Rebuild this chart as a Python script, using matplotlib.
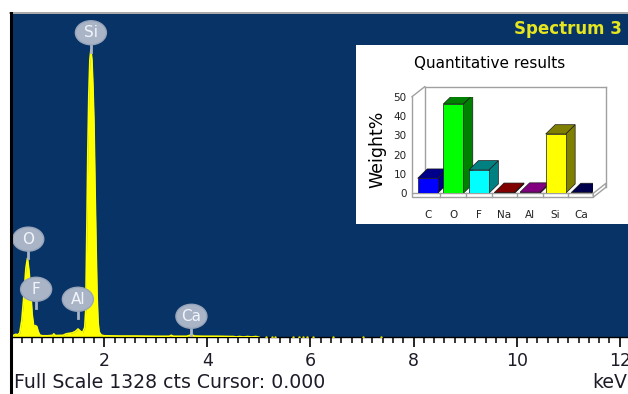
import matplotlib
matplotlib.use("Agg")
import matplotlib.pyplot as plt
from matplotlib.patches import Polygon, Ellipse, Rectangle
from matplotlib.lines import Line2D
from matplotlib.transforms import IdentityTransform

# ---------------- spectrum data (keV, counts) ----------------
energy = [0.19, 0.24, 0.28, 0.32, 0.36, 0.40, 0.44, 0.48, 0.51, 0.54, 0.57,
          0.60, 0.63, 0.66, 0.69, 0.72, 0.75, 0.80, 0.90, 1.00, 1.02, 1.05,
          1.20, 1.26, 1.32, 1.38, 1.44, 1.49, 1.54, 1.58, 1.62, 1.64, 1.66,
          1.68, 1.70, 1.72, 1.74, 1.76, 1.78, 1.80, 1.82, 1.84, 1.86, 1.88,
          1.90, 1.94, 2.00, 2.30, 2.60, 3.00, 3.26, 3.30, 3.34, 3.60, 3.66,
          3.70, 3.74, 3.90, 4.20, 4.44, 4.50, 4.56, 4.62, 4.70, 4.78, 4.86,
          4.94, 5.00]
counts = [6, 8, 12, 10, 18, 70, 170, 285, 325, 270, 195,
          95, 45, 48, 44, 22, 9, 6, 6, 8, 14, 7,
          8, 14, 16, 18, 24, 34, 24, 20, 40, 110, 420,
          760, 1000, 1140, 1180, 1140, 1030, 880, 620, 380, 170, 60,
          22, 9, 6, 5, 5, 4, 4, 8, 4, 4, 8,
          11, 5, 4, 4, 3, 3, 1, 3, 1, 3, 1,
          3, 0]
# isolated low-count channels beyond 5 keV
noise_energy = [5.13, 5.26, 5.32, 5.67, 5.77, 5.86, 5.94, 6.04, 6.43, 7.01, 7.36]
noise_counts = [3, 3, 3, 3, 3, 3, 3, 3, 3, 3, 3]

full_scale = 1328
x_range = (0.19, 12.16)
major_ticks = [2, 4, 6, 8, 10, 12]

# element markers: line energy and count level where the marker stem ends
peak_names = ["O", "F", "Al", "Si", "Ca"]
peak_energy = [0.525, 0.677, 1.487, 1.740, 3.690]
peak_marker_counts = [325, 119, 78, 1173, 8]

# ---------------- quantitative results ----------------
elements = ["C", "O", "F", "Na", "Al", "Si", "Ca"]
weight_pct = [7.8, 46.2, 12.1, 0.5, 0.6, 30.7, 0.4]
front_colors = ["#0000FF", "#00FF00", "#00FFFF", "#C00000", "#E000E0", "#FFFF00", "#000080"]
shade_colors = ["#00008B", "#008000", "#008080", "#800000", "#800080", "#808000", "#00004D"]

W, H = 628, 394
def fx(px):
    return px / W
def fy(py):
    return 1 - py / H

fig = plt.figure(figsize=(W / 100, H / 100), dpi=100)
fig.patch.set_facecolor("white")

# ---------------- main spectrum axes ----------------
ax = fig.add_axes([fx(11), fy(337), 1 - fx(11), (337 - 14) / H])
ax.set_facecolor("#083366")
ax.set_xlim(*x_range)
ax.set_ylim(1, full_scale)
for side in ("top", "right", "left"):
    ax.spines[side].set_visible(False)
ax.spines["bottom"].set_color("black")
ax.spines["bottom"].set_linewidth(1.0)
ax.set_yticks([])
ax.set_xticks(major_ticks)
ax.set_xticklabels([str(t) for t in major_ticks])
ax.set_xticks([round(0.2 * k, 1) for k in range(1, 61)], minor=True)
ax.tick_params(axis="x", which="major", direction="out", length=7, width=1.2,
               color="black", labelsize=12.5, labelcolor="#1c1c28", pad=4)
ax.tick_params(axis="x", which="minor", direction="out", length=4, width=1.1,
               color="black")
for lab in ax.get_xticklabels():
    lab.set_family("DejaVu Sans")

ax.fill_between(energy, counts, 0, color="#FFFF00", lw=0, zorder=2)
ax.plot(energy, counts, color="#FFFF00", lw=1.2, zorder=3)
ax.scatter(noise_energy, noise_counts, s=3, color="#E0E000", lw=0, zorder=3)

# element markers
BADGE = "#A9B4C7"
STEM, BW, BH = 7, 31, 24
for name, e, c in zip(peak_names, peak_energy, peak_marker_counts):
    bx, by = ax.transData.transform((e, c))
    stem = Line2D([bx, bx], [by, by + STEM + 2], transform=IdentityTransform(),
                  color=BADGE, lw=2, zorder=5)
    stem.set_clip_on(False)
    ax.add_artist(stem)
    ell = Ellipse((bx, by + STEM + BH / 2), BW, BH, transform=IdentityTransform(),
                  fc=BADGE, ec="#97A4BA", lw=1, zorder=6)
    ell.set_clip_on(False)
    ax.add_patch(ell)
    ax.text(bx, by + STEM + BH / 2, name, transform=IdentityTransform(),
            ha="center", va="center", fontsize=11, color="#F2F5FA",
            family="DejaVu Sans", zorder=7, clip_on=False)

fig.text(fx(622), fy(29), "Spectrum 3", ha="right", va="center", fontsize=12,
         fontweight="bold", color="#E6E620", family="DejaVu Sans")

# frame lines
fig.add_artist(Line2D([fx(10), 1], [fy(13.3), fy(13.3)], color="#9A9A9A", lw=1.2,
                      transform=fig.transFigure))
fig.add_artist(Line2D([fx(10.6), fx(10.6)], [fy(13), 0], color="black", lw=2.2,
                      transform=fig.transFigure))

fig.text(fx(14), fy(383), "Full Scale 1328 cts Cursor: 0.000", ha="left", va="center",
         fontsize=13.6, color="#1c1c28", family="DejaVu Sans")
fig.text(fx(627), fy(383), "keV", ha="right", va="center", fontsize=13.6,
         color="#1c1c28", family="DejaVu Sans")

# ---------------- quantitative results panel ----------------
fig.add_artist(Rectangle((fx(356), fy(224)), 1 - fx(356), (224 - 45) / H,
                         transform=fig.transFigure, fc="white", ec="none", zorder=1))
fig.text(fx(490), fy(64), "Quantitative results", ha="center", va="center",
         fontsize=11, color="black", family="DejaVu Sans", zorder=3)
fig.text(fx(377), fy(149), "Weight%", ha="center", va="center", rotation=90,
         fontsize=12.5, color="black", family="DejaVu Sans", zorder=3)

ins = fig.add_axes([fx(412), fy(193.3), (593.3 - 412) / W, (193.3 - 96.7) / H])
ins.set_zorder(2)
ins.patch.set_alpha(0)
xl, xr = -0.613, 6.47
ins.set_xlim(xl, xr)
ins.set_ylim(0, 50)
for s in ins.spines.values():
    s.set_visible(False)
ins.set_yticks([0, 10, 20, 30, 40, 50])
ins.set_xticks(range(len(elements)))
ins.set_xticklabels(elements)
ins.tick_params(axis="both", length=0, labelsize=7.5, labelcolor="#222222")
ins.tick_params(axis="y", pad=4)
ins.tick_params(axis="x", pad=12)

ox, oy = 0.496, 5.18        # frame depth
dxd, dyd = 0.371, 4.81      # bar depth
floor = -2.0
FRAME = "#A0A0A0"
def seg(xs, ys, **kw):
    ln = Line2D(xs, ys, color=FRAME, lw=1, clip_on=False, **kw)
    ins.add_line(ln)

seg([xl, xl], [0, 50])
seg([xl, xl + ox], [50, 50 + oy])
seg([xl + ox, xr + ox], [50 + oy, 50 + oy])
seg([xr + ox, xr + ox], [50 + oy, oy + floor])
seg([xl + ox, xl + ox], [50 + oy, oy])
# floor slab
ins.add_patch(Polygon([(xl, 0), (xr, 0), (xr, floor), (xl, floor)], closed=True,
                      fc="white", ec=FRAME, lw=1, clip_on=False))
ins.add_patch(Polygon([(xr, 0), (xr + ox, oy), (xr + ox, oy + floor), (xr, floor)],
                      closed=True, fc="white", ec=FRAME, lw=1, clip_on=False))
for k in range(len(elements) - 1):
    seg([k + 0.5, k + 0.5], [floor, 0])

bw = 0.78
bars = ins.bar(range(len(elements)), weight_pct, width=bw, color=front_colors,
               edgecolor="#1a1a1a", linewidth=0.5)
for i, (b, v) in enumerate(zip(bars, weight_pct)):
    x0 = i - bw / 2
    x1 = i + bw / 2
    side = Polygon([(x1, 0), (x1 + dxd, dyd), (x1 + dxd, v + dyd), (x1, v)], closed=True,
                   fc=shade_colors[i], ec="#1a1a1a", lw=0.5, zorder=10 + 3 * i)
    top = Polygon([(x0, v), (x0 + dxd, v + dyd), (x1 + dxd, v + dyd), (x1, v)], closed=True,
                  fc=shade_colors[i], ec="#1a1a1a", lw=0.5, zorder=10 + 3 * i + 1)
    ins.add_patch(side)
    ins.add_patch(top)
    b.set_zorder(10 + 3 * i + 2)

fig.savefig("out.png", dpi=100)
